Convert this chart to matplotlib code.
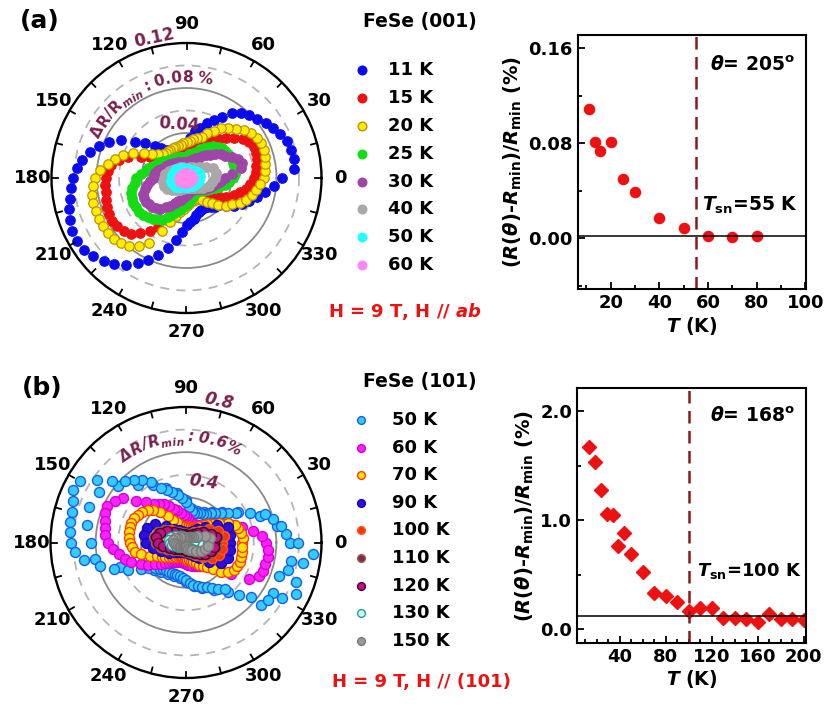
import numpy as np
import matplotlib
matplotlib.use('Agg')
import matplotlib.pyplot as plt
from matplotlib.lines import Line2D
from matplotlib.font_manager import FontProperties
from matplotlib.textpath import TextToPath
from matplotlib.ticker import FixedLocator, FormatStrFormatter

plt.rcParams['font.family'] = ['DejaVu Sans']
plt.rcParams['font.weight'] = 'bold'
plt.rcParams['mathtext.fontset'] = 'custom'
plt.rcParams['mathtext.rm'] = 'DejaVu Sans:bold'
plt.rcParams['mathtext.it'] = 'DejaVu Sans:italic:bold'
plt.rcParams['mathtext.bf'] = 'DejaVu Sans:bold'

# ------------------------------------------------------------------ data
theta_5 = list(range(0, 360, 5))
theta_10 = list(range(0, 360, 10))
theta_30 = list(range(0, 360, 30))

# ---- (a) FeSe (001): dR/Rmin (%) vs angle
labels_a = ['11 K', '15 K', '20 K', '25 K', '30 K', '40 K', '50 K', '60 K']
r_a_11K = [0.085, 0.096, 0.097, 0.096, 0.095, 0.092, 0.089, 0.086, 0.082, 0.079, 0.075, 0.070,
           0.063, 0.057, 0.052, 0.046, 0.042, 0.036, 0.031, 0.027, 0.024, 0.022, 0.022, 0.024,
           0.027, 0.030, 0.035, 0.040, 0.048, 0.056, 0.067, 0.076, 0.083, 0.089, 0.094, 0.098,
           0.101, 0.103, 0.105, 0.108, 0.110, 0.112, 0.112, 0.111, 0.108, 0.104, 0.100, 0.094,
           0.087, 0.080, 0.073, 0.064, 0.056, 0.048, 0.042, 0.039, 0.037, 0.034, 0.032, 0.031,
           0.031, 0.032, 0.034, 0.036, 0.038, 0.043, 0.049, 0.054, 0.059, 0.065, 0.071, 0.078]
r_a_15K = [0.060, 0.062, 0.063, 0.065, 0.066, 0.066, 0.064, 0.061, 0.055, 0.050, 0.045, 0.040,
           0.036, 0.032, 0.029, 0.028, 0.026, 0.025, 0.024, 0.023, 0.023, 0.023, 0.023, 0.023,
           0.024, 0.025, 0.026, 0.028, 0.029, 0.033, 0.037, 0.045, 0.055, 0.062, 0.068, 0.070,
           0.072, 0.073, 0.073, 0.074, 0.075, 0.076, 0.076, 0.075, 0.073, 0.070, 0.064, 0.057,
           0.050, 0.041, 0.034, 0.029, 0.027, 0.024, 0.022, 0.021, 0.020, 0.019, 0.019, 0.019,
           0.020, 0.021, 0.023, 0.026, 0.029, 0.031, 0.034, 0.039, 0.045, 0.049, 0.054, 0.057]
r_a_20K = [0.069, 0.070, 0.071, 0.072, 0.073, 0.073, 0.072, 0.070, 0.067, 0.062, 0.058, 0.054,
           0.048, 0.044, 0.039, 0.037, 0.035, 0.033, 0.032, 0.031, 0.030, 0.029, 0.029, 0.029,
           0.029, 0.029, 0.029, 0.030, 0.033, 0.037, 0.044, 0.052, 0.060, 0.066, 0.071, 0.077,
           0.081, 0.083, 0.085, 0.086, 0.086, 0.086, 0.086, 0.085, 0.084, 0.082, 0.079, 0.074,
           0.067, 0.052, 0.042, 0.035, 0.031, 0.028, 0.025, 0.023, 0.021, 0.021, 0.021, 0.021,
           0.022, 0.024, 0.028, 0.032, 0.037, 0.043, 0.047, 0.052, 0.056, 0.060, 0.063, 0.066]
r_a_25K = [0.041, 0.043, 0.044, 0.044, 0.044, 0.044, 0.043, 0.042, 0.041, 0.039, 0.037, 0.034,
           0.031, 0.028, 0.025, 0.023, 0.021, 0.021, 0.020, 0.019, 0.019, 0.019, 0.020, 0.020,
           0.021, 0.021, 0.022, 0.023, 0.024, 0.026, 0.028, 0.029, 0.032, 0.035, 0.037, 0.041,
           0.045, 0.046, 0.049, 0.051, 0.052, 0.052, 0.052, 0.052, 0.051, 0.049, 0.047, 0.045,
           0.043, 0.038, 0.034, 0.030, 0.028, 0.025, 0.023, 0.021, 0.020, 0.018, 0.017, 0.016,
           0.015, 0.015, 0.015, 0.016, 0.017, 0.019, 0.021, 0.023, 0.026, 0.030, 0.035, 0.038]
r_a_30K = [0.034, 0.041, 0.049, 0.051, 0.049, 0.045, 0.040, 0.037, 0.033, 0.029, 0.027, 0.024,
           0.021, 0.020, 0.018, 0.016, 0.015, 0.014, 0.014, 0.014, 0.014, 0.014, 0.015, 0.015,
           0.016, 0.016, 0.017, 0.018, 0.019, 0.020, 0.021, 0.022, 0.024, 0.026, 0.028, 0.029,
           0.029, 0.033, 0.036, 0.038, 0.041, 0.042, 0.042, 0.041, 0.040, 0.038, 0.036, 0.032,
           0.029, 0.025, 0.022, 0.020, 0.018, 0.016, 0.015, 0.014, 0.013, 0.012, 0.012, 0.012,
           0.012, 0.012, 0.013, 0.014, 0.015, 0.017, 0.019, 0.021, 0.023, 0.025, 0.028, 0.031]
r_a_40K = [0.025, 0.027, 0.025, 0.020, 0.015, 0.012, 0.011, 0.010, 0.009, 0.009, 0.009, 0.010,
           0.011, 0.012, 0.013, 0.015, 0.017, 0.019, 0.020, 0.021, 0.021, 0.020, 0.017, 0.014,
           0.012, 0.010, 0.009, 0.009, 0.009, 0.009, 0.010, 0.012, 0.014, 0.017, 0.021, 0.023]
r_a_50K = [0.011, 0.012, 0.012, 0.011, 0.010, 0.009, 0.008, 0.008, 0.008, 0.008, 0.008, 0.009,
           0.010, 0.011, 0.012, 0.012, 0.013, 0.013, 0.013, 0.014, 0.014, 0.013, 0.012, 0.011,
           0.009, 0.008, 0.008, 0.008, 0.008, 0.008, 0.008, 0.009, 0.009, 0.010, 0.011, 0.011]
r_a_60K = [0.006, 0.005, 0.0045, 0.0045, 0.005, 0.006, 0.007, 0.007, 0.005, 0.0045, 0.0045, 0.005]

# ---- (b) FeSe (101): dR/Rmin (%) vs angle (radial axis runs 0.2 -> 0.8)
labels_b = ['50 K', '60 K', '70 K', '90 K', '100 K', '110 K', '120 K', '130 K', '150 K']
r_b_50K = [0.698, 0.644, 0.627, 0.600, 0.573, 0.511, 0.458, 0.427, 0.400, 0.382, 0.369, 0.356,
           0.347, 0.342, 0.338, 0.333, 0.342, 0.360, 0.378, 0.396, 0.413, 0.431, 0.449, 0.467,
           0.511, 0.538, 0.560, 0.582, 0.627, 0.680, 0.742, 0.751, 0.733, 0.724, 0.720, 0.716,
           0.711, 0.693, 0.658, 0.596, 0.538, 0.484, 0.431, 0.400, 0.378, 0.364, 0.356, 0.351,
           0.351, 0.347, 0.347, 0.347, 0.351, 0.356, 0.364, 0.378, 0.391, 0.400, 0.409, 0.418,
           0.431, 0.449, 0.467, 0.529, 0.631, 0.644, 0.689, 0.738, 0.716, 0.667, 0.724, 0.764]
r_b_50K_pass2 = [0.662, 0.609, 0.547, 0.467, 0.409, 0.378, 0.356, 0.347, 0.351, 0.387, 0.422, 0.458,
                 0.493, 0.533, 0.591, 0.644, 0.658, 0.644, 0.622, 0.609, 0.511, 0.422, 0.387, 0.369,
                 0.360, 0.356, 0.360, 0.373, 0.396, 0.413, 0.444, 0.489, 0.578, 0.644, 0.640, 0.671]
r_b_60K = [0.556, 0.538, 0.502, 0.458, 0.422, 0.391, 0.360, 0.338, 0.320, 0.307, 0.298, 0.293,
           0.289, 0.289, 0.289, 0.293, 0.298, 0.307, 0.316, 0.324, 0.333, 0.347, 0.360, 0.378,
           0.396, 0.409, 0.422, 0.453, 0.489, 0.542, 0.564, 0.587, 0.582, 0.573, 0.564, 0.560,
           0.547, 0.524, 0.502, 0.480, 0.458, 0.422, 0.396, 0.369, 0.347, 0.329, 0.316, 0.307,
           0.298, 0.293, 0.289, 0.289, 0.289, 0.289, 0.293, 0.298, 0.302, 0.307, 0.311, 0.316,
           0.320, 0.320, 0.324, 0.329, 0.378, 0.444, 0.524, 0.556, 0.564, 0.564, 0.569, 0.564]
r_b_70K = [0.449, 0.453, 0.449, 0.440, 0.431, 0.404, 0.369, 0.342, 0.324, 0.311, 0.298, 0.289,
           0.280, 0.276, 0.271, 0.267, 0.267, 0.267, 0.271, 0.271, 0.276, 0.280, 0.289, 0.298,
           0.316, 0.342, 0.378, 0.404, 0.422, 0.436, 0.444, 0.453, 0.458, 0.458, 0.458, 0.453,
           0.449, 0.440, 0.431, 0.404, 0.369, 0.342, 0.324, 0.311, 0.298, 0.289, 0.280, 0.276,
           0.271, 0.267, 0.267, 0.267, 0.267, 0.271, 0.271, 0.276, 0.280, 0.284, 0.293, 0.302,
           0.316, 0.329, 0.342, 0.369, 0.404, 0.427, 0.444, 0.449, 0.453, 0.453, 0.453, 0.449]
r_b_90K = [0.396, 0.400, 0.396, 0.356, 0.307, 0.276, 0.258, 0.249, 0.244, 0.244, 0.249, 0.253,
           0.262, 0.280, 0.316, 0.360, 0.382, 0.387, 0.378, 0.347, 0.316, 0.289, 0.267, 0.253,
           0.249, 0.244, 0.244, 0.244, 0.249, 0.253, 0.267, 0.289, 0.333, 0.378, 0.396, 0.400]
r_b_100K = [0.360, 0.369, 0.351, 0.316, 0.280, 0.258, 0.244, 0.240, 0.236, 0.236, 0.240, 0.244,
            0.249, 0.262, 0.284, 0.307, 0.324, 0.329, 0.324, 0.311, 0.289, 0.267, 0.253, 0.244,
            0.240, 0.236, 0.236, 0.236, 0.240, 0.244, 0.253, 0.271, 0.298, 0.333, 0.356, 0.360]
r_b_110K = [0.333, 0.342, 0.324, 0.298, 0.271, 0.253, 0.244, 0.240, 0.236, 0.236, 0.240, 0.244,
            0.249, 0.258, 0.276, 0.307, 0.333, 0.342, 0.333, 0.311, 0.284, 0.262, 0.249, 0.240,
            0.236, 0.236, 0.236, 0.236, 0.240, 0.244, 0.253, 0.267, 0.284, 0.307, 0.324, 0.333]
r_b_120K = [0.324, 0.333, 0.316, 0.289, 0.262, 0.249, 0.240, 0.236, 0.231, 0.231, 0.236, 0.240,
            0.244, 0.253, 0.271, 0.298, 0.324, 0.333, 0.324, 0.302, 0.276, 0.258, 0.244, 0.236,
            0.231, 0.231, 0.231, 0.231, 0.236, 0.240, 0.249, 0.262, 0.280, 0.298, 0.316, 0.324]
r_b_130K = [0.280, 0.280, 0.267, 0.249, 0.236, 0.227, 0.222, 0.222, 0.222, 0.222, 0.222, 0.227,
            0.231, 0.236, 0.244, 0.258, 0.271, 0.276, 0.271, 0.262, 0.249, 0.236, 0.227, 0.222,
            0.222, 0.222, 0.222, 0.222, 0.222, 0.227, 0.231, 0.240, 0.249, 0.262, 0.271, 0.276]
r_b_150K = [0.298, 0.307, 0.289, 0.258, 0.240, 0.231, 0.227, 0.222, 0.222, 0.222, 0.222, 0.227,
            0.227, 0.231, 0.236, 0.244, 0.253, 0.258, 0.253, 0.244, 0.236, 0.231, 0.227, 0.222,
            0.222, 0.222, 0.222, 0.222, 0.227, 0.231, 0.236, 0.244, 0.258, 0.276, 0.289, 0.298]

# ---- right panels
T_a = [11, 13.5, 15.5, 20, 25, 30, 40, 50, 60, 70, 80]
dR_a = [0.109, 0.081, 0.073, 0.081, 0.050, 0.039, 0.017, 0.009, 0.0015, 0.001, 0.0015]
base_a = 0.002
Tsn_a = 55
T_b = [13, 19, 24, 29, 34, 39, 44, 50, 60, 70, 80, 90, 100, 110, 120, 130, 140, 150, 160,
       170, 180, 190, 200]
dR_b = [1.67, 1.53, 1.28, 1.055, 1.046, 0.76, 0.884, 0.686, 0.527, 0.335, 0.305, 0.253, 0.168,
        0.192, 0.192, 0.10, 0.107, 0.098, 0.07, 0.137, 0.09, 0.09, 0.085]
base_b = 0.122
Tsn_b = 100

# ------------------------------------------------------------------ figure
W, H = 825, 711
fig = plt.figure(figsize=(W / 100, H / 100), dpi=100)
MAROON = '#7a1f4e'


def fbox(x0, y0, x1, y1):
    return [x0 / W, 1 - y1 / H, (x1 - x0) / W, (y1 - y0) / H]


def arc_text(segments, cx, cy, r_px, start_deg):
    ttp = TextToPath()
    ang = np.deg2rad(start_deg)
    for text, size, style, dr in segments:
        prop = FontProperties(family='DejaVu Sans', weight='bold', style=style, size=size)
        for ch in text:
            if ch == ' ':
                w_px = 0.22 * size * 100 / 72
            else:
                w_pt, _, _ = ttp.get_text_width_height_descent(ch, prop, ismath=False)
                w_px = w_pt * 100 / 72 + 0.2
            d = w_px / (r_px + dr)
            mid = ang - d / 2
            x = cx + (r_px + dr) * np.cos(mid)
            y = cy - (r_px + dr) * np.sin(mid)
            fig.text(x / W, 1 - y / H, ch, rotation=np.rad2deg(mid) - 90, ha='center',
                     va='baseline', rotation_mode='anchor', fontproperties=prop, color=MAROON)
            ang -= d


def style_polar(ax, rmin, rmax, rticks, solid):
    ax.set_ylim(rmin, rmax)
    ax.set_rticks(rticks)
    ax.set_yticklabels([])
    ax.set_thetagrids(theta_30, labels=[str(t) for t in theta_30])
    ax.xaxis.grid(False)
    ax.yaxis.grid(True)
    for val, gl in zip(rticks, ax.yaxis.get_gridlines()):
        if val in solid:
            gl.set_color('#8a8a8a'); gl.set_linestyle('-'); gl.set_linewidth(1.3)
        else:
            gl.set_color('#b5b5b5'); gl.set_linestyle((0, (5, 4))); gl.set_linewidth(1.3)
    ax.spines['polar'].set_linewidth(1.7)
    ax.tick_params(axis='x', labelsize=13, pad=3)
    for lab in ax.get_xticklabels():
        lab.set_fontweight('bold')
    span = rmax - rmin
    for t in range(0, 360, 15):
        ax.plot([np.deg2rad(t)] * 2, [rmax - 0.045 * span, rmax], color='black', lw=1.3,
                clip_on=False, zorder=5)


# ---------------- polar (a)
axa = fig.add_axes(fbox(51.5, 43, 321.5, 313), projection='polar')
styles_a = [
    dict(mfc='#0a0af0', mec='#0a0af0'),
    dict(mfc='#ee1111', mec='#ee1111'),
    dict(mfc='#ffee00', mec='#c09000'),
    dict(mfc='#15dd15', mec='#15dd15'),
    dict(mfc='#a045a8', mec='#a045a8'),
    dict(mfc='#a8a8a8', mec='#a8a8a8'),
    dict(mfc='#22ffff', mec='#22ffff'),
    dict(mfc='#ff88ee', mec='#ff88ee'),
]
series_a = [(theta_5, r_a_11K), (theta_5, r_a_15K), (theta_5, r_a_20K), (theta_5, r_a_25K),
            (theta_5, r_a_30K), (theta_10, r_a_40K), (theta_10, r_a_50K), (theta_30, r_a_60K)]
for (th, r), st in zip(series_a, styles_a):
    axa.plot(np.deg2rad(th), r, ls='none', marker='o', ms=6.8, mew=0.9, **st)
style_polar(axa, 0.0, 0.12, [0.02, 0.04, 0.06, 0.08, 0.10], [0.04, 0.08])
axa.text(np.deg2rad(103), 0.128, '0.12', rotation=12, ha='center', va='center',
         color=MAROON, fontsize=12, fontweight='bold')
axa.text(np.deg2rad(98.5), 0.0478, '0.04', rotation=-4, ha='center', va='center',
         color=MAROON, fontsize=12, fontweight='bold')
arc_text([('ΔR/R', 11, 'normal', 0), ('min', 7.5, 'italic', -4), (' : 0.08 %', 11, 'normal', 0)],
         186.5, 178, 96, 156)

# ---------------- polar (b)
axb = fig.add_axes(fbox(50.5, 407, 321.5, 678), projection='polar')
styles_b = [
    dict(mfc='#33ccff', mec='#1a5ee0'),
    dict(mfc='#ff22ff', mec='#d000d0'),
    dict(mfc='#ffe400', mec='#ff3c00'),
    dict(mfc='#2a10e0', mec='#2000b0'),
    dict(mfc='#ff3300', mec='#ff5a1a'),
    dict(mfc='#7a2a55', mec='#a0604a'),
    dict(mfc='#c0108a', mec='#500020'),
    dict(mfc='#d0f4f4', mec='#20a0a0'),
    dict(mfc='#9a9a9a', mec='#7a7a7a'),
]
series_b = [(theta_5, r_b_50K), (theta_5, r_b_60K), (theta_5, r_b_70K), (theta_10, r_b_90K),
            (theta_10, r_b_100K), (theta_10, r_b_110K), (theta_10, r_b_120K), (theta_10, r_b_130K),
            (theta_10, r_b_150K)]
axb.plot(np.deg2rad(theta_10), r_b_50K_pass2, ls='none', marker='o', ms=7.2, mew=1.0, **styles_b[0])
for (th, r), st in zip(series_b, styles_b):
    axb.plot(np.deg2rad(th), r, ls='none', marker='o', ms=7.2, mew=1.0, **st)
style_polar(axb, 0.2, 0.8, [0.3, 0.4, 0.5, 0.6, 0.7], [0.4, 0.6])
axb.text(np.deg2rad(77), 0.84, '0.8', rotation=-12, ha='center', va='center',
         color=MAROON, fontsize=12, fontweight='bold', style='italic')
axb.text(np.deg2rad(74), 0.48, '0.4', rotation=-8, ha='center', va='center',
         color=MAROON, fontsize=12, fontweight='bold', style='italic')
arc_text([('ΔR/R', 11, 'italic', 0), ('min', 7.5, 'italic', -4), (' : 0.6%', 11, 'italic', 0)],
         186, 542.5, 101, 128)


# ---------------- legends (drawn with the series styles)
def legend_block(labels, styles, x_mk, x_txt, y0, dy, ms, title, ty, note, nx, ny):
    for i, (lab, st) in enumerate(zip(labels, styles)):
        y = 1 - (y0 + i * dy) / H
        fig.add_artist(Line2D([x_mk / W], [y], transform=fig.transFigure, ls='none',
                              marker='o', ms=ms, mew=1.0, **st))
        fig.text(x_txt / W, y, lab, ha='left', va='center', fontsize=13, fontweight='bold')
    fig.text(420 / W, 1 - ty / H, title, ha='center', va='center', fontsize=13.5,
             fontweight='bold')
    fig.text(nx / W, 1 - ny / H, note, ha='center', va='center', fontsize=13,
             fontweight='bold', color='#ee1111')


legend_block(labels_a, styles_a, 361.5, 388, 70, 27.9, 6.2, 'FeSe (001)', 22,
             r'H = 9 T, H // $ab$', 405, 311)
legend_block(labels_b, styles_b, 361, 392, 420, 27.6, 5.6, 'FeSe (101)', 382,
             'H = 9 T, H // (101)', 421, 682)

fig.text(40 / W, 1 - 21 / H, '(a)', ha='center', va='center', fontsize=18, fontweight='bold')
fig.text(42 / W, 1 - 388 / H, '(b)', ha='center', va='center', fontsize=18, fontweight='bold')


# ---------------- right panels
def style_right(ax):
    for s in ax.spines.values():
        s.set_linewidth(1.5)
    ax.tick_params(which='both', direction='in', labelsize=13, width=1.3)
    ax.tick_params(which='major', length=5)
    ax.tick_params(which='minor', length=3)
    for lab in ax.get_xticklabels() + ax.get_yticklabels():
        lab.set_fontweight('bold')


ylab = r'$(R(\theta)$-$R_{\mathrm{min}})/R_{\mathrm{min}}$ (%)'

axr1 = fig.add_axes(fbox(577.5, 35, 806, 289.3))
axr1.plot(T_a, dR_a, ls='none', marker='o', ms=7.3, color='#ee1111')
axr1.axhline(base_a, color='black', lw=1.1)
axr1.axvline(Tsn_a, color='#8b1a1a', lw=1.8, dashes=(5, 3))
axr1.set_xlim(6.3, 100.3)
axr1.set_ylim(-0.043, 0.171)
axr1.xaxis.set_major_locator(FixedLocator([20, 40, 60, 80, 100]))
axr1.xaxis.set_minor_locator(FixedLocator([10, 30, 50, 70, 90]))
axr1.yaxis.set_major_locator(FixedLocator([0.0, 0.08, 0.16]))
axr1.yaxis.set_minor_locator(FixedLocator([-0.04, 0.04, 0.12]))
axr1.yaxis.set_major_formatter(FormatStrFormatter('%.2f'))
style_right(axr1)
axr1.set_xlabel(r'$T$ (K)', fontsize=13.5, fontweight='bold', labelpad=2)
axr1.set_ylabel(ylab, fontsize=14, fontweight='bold', labelpad=3)
axr1.text(0.765, 0.88, r'$\theta$= 205$^{\mathrm{o}}$', transform=axr1.transAxes, ha='center',
          va='center', fontsize=13.5, fontweight='bold')
axr1.text(0.545, 0.33, r'$T_{\mathrm{sn}}$=55 K', transform=axr1.transAxes, ha='left',
          va='center', fontsize=13.5, fontweight='bold')

axr2 = fig.add_axes(fbox(577, 388.3, 806, 642.7))
axr2.plot(T_b, dR_b, ls='none', marker='D', ms=7.0, color='#ee1111')
axr2.axhline(base_b, color='black', lw=1.1)
axr2.axvline(Tsn_b, color='#8b1a1a', lw=1.8, dashes=(5, 3))
axr2.set_xlim(3, 202)
axr2.set_ylim(-0.123, 2.21)
axr2.xaxis.set_major_locator(FixedLocator([40, 80, 120, 160, 200]))
axr2.xaxis.set_minor_locator(FixedLocator(list(range(10, 201, 10))))
axr2.yaxis.set_major_locator(FixedLocator([0.0, 1.0, 2.0]))
axr2.yaxis.set_minor_locator(FixedLocator([0.5, 1.5]))
axr2.yaxis.set_major_formatter(FormatStrFormatter('%.1f'))
style_right(axr2)
axr2.set_xlabel(r'$T$ (K)', fontsize=13.5, fontweight='bold', labelpad=2)
axr2.set_ylabel(ylab, fontsize=14, fontweight='bold', labelpad=3)
axr2.text(0.765, 0.89, r'$\theta$= 168$^{\mathrm{o}}$', transform=axr2.transAxes, ha='center',
          va='center', fontsize=13.5, fontweight='bold')
axr2.text(0.525, 0.28, r'$T_{\mathrm{sn}}$=100 K', transform=axr2.transAxes, ha='left',
          va='center', fontsize=13, fontweight='bold')

fig.savefig('out.png', dpi=100)
